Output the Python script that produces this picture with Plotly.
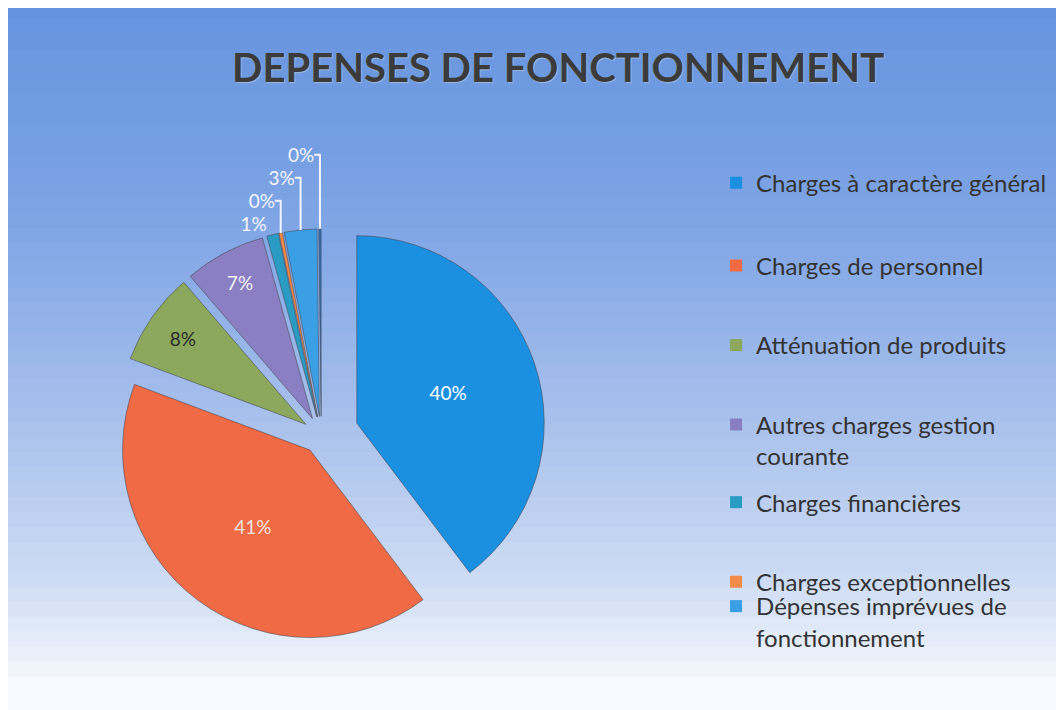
import plotly.graph_objects as go

# ---- data ----
categories = [
    "Charges à caractère général",
    "Charges de personnel",
    "Atténuation de produits",
    "Autres charges gestion<br>courante",
    "Charges financières",
    "Charges exceptionnelles",
    "Dépenses imprévues de<br>fonctionnement",
    " ",
]
values = [39.7, 41.0, 8.0, 7.0, 1.0, 0.3, 2.8, 0.2]
colors = ["#1b8fe0", "#f06a45", "#8ba85c", "#8a7fc2", "#2a9cc4", "#f28a4a", "#3a9fe4", "#2f6fb4"]
pulls = [0.2, 0.1, 0.1, 0.1, 0.1, 0.1, 0.1, 0.1]
legend_items = 7  # only the first seven are visible in the legend
text_pos = ["inside", "inside", "inside", "inside", "outside", "outside", "outside", "outside"]
inside_text_colors = ["#ffffff", "#ece4de", "#2a2a2a", "#f2f2f2", "#ffffff", "#ffffff", "#ffffff", "#ffffff"]
# vertical position (paper fraction) of each legend entry (top anchor; last one bottom anchor)
legend_y = [0.766, 0.639, 0.517, 0.395, 0.276, 0.154, 0.0]
legend_anchor = ["top", "top", "top", "top", "top", "top", "bottom"]

FONT = "Lato"

fig = go.Figure()

fig.add_trace(go.Pie(
    labels=categories,
    values=values,
    sort=False,
    direction="clockwise",
    rotation=0,
    pull=pulls,
    marker=dict(colors=colors, line=dict(color="rgba(70,70,80,0.55)", width=1)),
    texttemplate="%{percent:.0%}",
    textposition=text_pos,
    insidetextorientation="horizontal",
    insidetextfont=dict(family=FONT, size=19, color=inside_text_colors),
    outsidetextfont=dict(family=FONT, size=19, color="#f4f6fb"),
    domain=dict(x=[0.054, 0.516], y=[0.0, 0.69]),
    showlegend=False,
    hoverinfo="label+percent",
))

# legend entries: one legend per entry so they are evenly spaced like the original
legend_layout = {}
for i in range(legend_items):
    lname = "legend" if i == 0 else f"legend{i + 1}"
    fig.add_trace(go.Scatter(
        x=[None], y=[None], mode="markers",
        marker=dict(symbol="square", size=11, color=colors[i]),
        name=categories[i], showlegend=True, legend=lname,
    ))
    legend_layout[lname] = dict(
        x=0.661, y=legend_y[i], xanchor="left", yanchor=legend_anchor[i],
        font=dict(family=FONT, size=24, color="#333333"),
        bgcolor="rgba(0,0,0,0)", valign="top", itemsizing="constant",
    )

# background gradient (blue at top fading to near white at bottom)
stops = [(0.0, (98, 146, 222)), (0.35, (128, 166, 230)), (0.6, (165, 190, 236)),
         (0.85, (205, 220, 244)), (1.0, (246, 249, 253))]
n = 48
y_top, y_bot = 1.05, -0.05
for k in range(n):
    t = k / (n - 1)
    for s in range(len(stops) - 1):
        if stops[s][0] <= t <= stops[s + 1][0]:
            u = (t - stops[s][0]) / (stops[s + 1][0] - stops[s][0])
            c = tuple(int(stops[s][1][j] + (stops[s + 1][1][j] - stops[s][1][j]) * u) for j in range(3))
            break
    h = (y_top - y_bot) / n
    fig.add_shape(type="rect", xref="paper", yref="paper",
                  x0=-0.05, x1=1.05, y0=y_top - (k + 1) * h - 0.002, y1=y_top - k * h + 0.002,
                  fillcolor=f"rgb{c}", line=dict(width=0), layer="below")

fig.update_layout(
    width=1064, height=710,
    margin=dict(l=0, r=0, t=0, b=0),
    paper_bgcolor="rgb(246,249,253)",
    plot_bgcolor="rgba(0,0,0,0)",
    xaxis=dict(visible=False), yaxis=dict(visible=False),
    title=dict(text="<b>DEPENSES DE FONCTIONNEMENT</b>", x=0.517, xanchor="center",
               y=0.915, yanchor="middle",
               font=dict(family=FONT, size=40, color="#3b3b3b", shadow="1px 1px 1px #9fb6d8")),
    **legend_layout,
)

fig.write_html("out.html")
